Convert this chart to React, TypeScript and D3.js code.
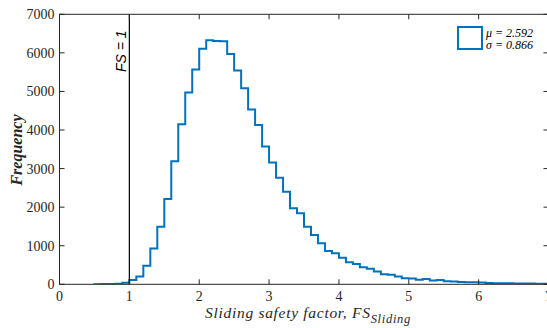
import React from "react";
import * as d3 from "d3";

const binStart = 0.5;
const binWidth = 0.1;
const counts = [
  3, 5, 8, 15, 40, 110, 200, 480, 930, 1490, 2210, 3190, 4150, 4970, 5570,
  6110, 6330, 6310, 6300, 5970, 5540, 5080, 4535, 4130, 3570, 3155, 2760, 2400,
  1970, 1840, 1495, 1280, 1063, 865, 805, 690, 570, 527, 440, 400, 330, 260,
  250, 200, 160, 150, 115, 140, 100, 110, 80, 75, 60, 55, 50, 45, 35, 30, 28,
  25, 22, 20, 18, 15, 12,
];
const xTicks = [0, 1, 2, 3, 4, 5, 6, 7];
const yTicks = [0, 1000, 2000, 3000, 4000, 5000, 6000, 7000];
const refLineX = 1;
const legendLines = ["\u03bc = 2.592", "\u03c3 = 0.866"];

const W = 547;
const H = 328;
const L = 59.5;
const R = 548.5;
const T = 14.3;
const B = 284.3;

export default function App() {
  const x = d3.scaleLinear().domain([0, 7]).range([L, R]);
  const y = d3.scaleLinear().domain([0, 7000]).range([B, T]);

  const pts: [number, number][] = [];
  pts.push([binStart, 0]);
  counts.forEach((c, i) => {
    const a = binStart + i * binWidth;
    const b = a + binWidth;
    pts.push([a, c]);
    pts.push([b, c]);
  });
  pts.push([binStart + counts.length * binWidth, 0]);
  const line = d3
    .line<[number, number]>()
    .x((d) => x(d[0]))
    .y((d) => y(d[1]));

  const axisColor = "#262626";
  const serif = "'Liberation Serif', 'DejaVu Serif', serif";
  const tickLen = 5;

  return (
    <svg
      width={W}
      height={H}
      style={{ position: "absolute", left: 0, top: 0, background: "#fff" }}
    >
      <defs>
        <clipPath id="plotclip">
          <rect x={L} y={T} width={R - L} height={B - T} />
        </clipPath>
      </defs>
      {/* histogram */}
      <path
        d={line(pts) || ""}
        fill="none"
        stroke="#0072BD"
        strokeWidth={2}
        clipPath="url(#plotclip)"
      />
      {/* reference line */}
      <line
        x1={x(refLineX)}
        x2={x(refLineX)}
        y1={y(0)}
        y2={y(7000)}
        stroke="#000"
        strokeWidth={1.2}
      />
      <text
        transform={`translate(${x(refLineX) - 3},72) rotate(-90)`}
        fontFamily="'Liberation Sans', Arial, sans-serif"
        fontStyle="italic"
        fontSize={14}
        fill="#000"
      >
        FS = 1
      </text>
      {/* axes box */}
      <rect
        x={L}
        y={T}
        width={R - L}
        height={B - T}
        fill="none"
        stroke={axisColor}
        strokeWidth={1}
      />
      {xTicks.map((t) => (
        <g key={"x" + t}>
          <line x1={x(t)} x2={x(t)} y1={B} y2={B - tickLen} stroke={axisColor} />
          <line x1={x(t)} x2={x(t)} y1={T} y2={T + tickLen} stroke={axisColor} />
          <text
            x={x(t)}
            y={B + 17}
            textAnchor="middle"
            fontFamily={serif}
            fontSize={14}
            fill={axisColor}
          >
            {t}
          </text>
        </g>
      ))}
      {yTicks.map((t) => (
        <g key={"y" + t}>
          <line x1={L} x2={L + tickLen} y1={y(t)} y2={y(t)} stroke={axisColor} />
          <line x1={R} x2={R - tickLen} y1={y(t)} y2={y(t)} stroke={axisColor} />
          <text
            x={L - 5}
            y={y(t) + 5}
            textAnchor="end"
            fontFamily={serif}
            fontSize={14}
            fill={axisColor}
          >
            {t}
          </text>
        </g>
      ))}
      {/* axis labels */}
      <text
        transform={`translate(22,150) rotate(-90)`}
        textAnchor="middle"
        fontFamily={serif}
        fontStyle="italic"
        fontWeight="bold"
        fontSize={16}
        fill={axisColor}
      >
        Frequency
      </text>
      <text
        x={(L + R) / 2 + 4}
        y={318}
        textAnchor="middle"
        fontFamily={serif}
        fontStyle="italic"
        fontSize={15.5}
        letterSpacing={0.7}
        fill={axisColor}
      >
        Sliding safety factor, FS
        <tspan fontSize={12.5} dy={5}>
          Sliding
        </tspan>
      </text>
      {/* legend */}
      <rect
        x={458}
        y={27}
        width={24}
        height={22}
        fill="none"
        stroke="#0072BD"
        strokeWidth={2}
      />
      {legendLines.map((s, i) => (
        <text
          key={s}
          x={486}
          y={36.5 + i * 12.5}
          fontFamily={serif}
          fontStyle="italic"
          fontSize={12}
          fill="#000"
        >
          {s}
        </text>
      ))}
    </svg>
  );
}
